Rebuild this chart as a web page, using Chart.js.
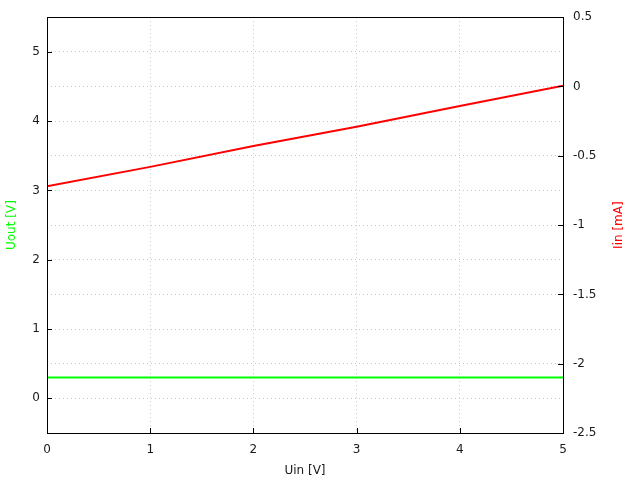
<!DOCTYPE html>
<html>
<head>
<meta charset="utf-8">
<script src="https://cdn.jsdelivr.net/npm/chart.js@4"></script>
<style>
  html, body { margin: 0; padding: 0; background: #fff; }
  canvas { display: block; }
</style>
</head>
<body>
<canvas id="chart" width="640" height="480"></canvas>
<script>
// Data
const uin = [0, 1, 2, 3, 4, 5];                          // Uin [V]
const uout = [0.3, 0.3, 0.3, 0.3, 0.3, 0.3];              // Uout [V]
const iin = [-0.72, -0.58, -0.43, -0.29, -0.14, 0.005];   // Iin [mA]

const xTicks = [0, 1, 2, 3, 4, 5];
const yTicks = [0, 1, 2, 3, 4, 5];
const y2Ticks = [-2.5, -2, -1.5, -1, -0.5, 0, 0.5];

Chart.defaults.font.family = "'DejaVu Sans', sans-serif";
Chart.defaults.font.size = 12;
Chart.defaults.color = "#1a1a1a";

const gridColor = "#c8c8c8";

// gnuplot-like frame, inward tick marks and axis titles
const framePlugin = {
    id: "frame",
    afterDatasetsDraw(chart) {
        const ctx = chart.ctx;
        const a = chart.chartArea;
        const s = chart.scales;
        ctx.save();
        ctx.strokeStyle = "#000";
        ctx.lineWidth = 1;
        ctx.beginPath();
        yTicks.forEach(v => {
            const y = Math.round(s.y.getPixelForValue(v)) + 0.5;
            ctx.moveTo(a.left, y); ctx.lineTo(a.left + 5, y);
        });
        y2Ticks.forEach(v => {
            const y = Math.round(s.y2.getPixelForValue(v)) + 0.5;
            ctx.moveTo(a.right, y); ctx.lineTo(a.right - 5, y);
        });
        xTicks.forEach(v => {
            const x = Math.round(s.x.getPixelForValue(v)) + 0.5;
            ctx.moveTo(x, a.bottom); ctx.lineTo(x, a.bottom - 5);
        });
        ctx.stroke();
        ctx.strokeRect(Math.round(a.left) + 0.5, Math.round(a.top) + 0.5,
                       Math.round(a.right - a.left), Math.round(a.bottom - a.top));

        // axis titles
        ctx.font = "12px 'DejaVu Sans', sans-serif";
        ctx.textAlign = "center";
        ctx.textBaseline = "middle";
        ctx.fillStyle = "#1a1a1a";
        ctx.fillText("Uin [V]", (a.left + a.right) / 2, 471);
        const midY = (a.top + a.bottom) / 2;
        ctx.save();
        ctx.translate(12, midY);
        ctx.rotate(-Math.PI / 2);
        ctx.fillStyle = "#00ff00";
        ctx.fillText("Uout [V]", 0, 0);
        ctx.restore();
        ctx.save();
        ctx.translate(619, midY);
        ctx.rotate(-Math.PI / 2);
        ctx.fillStyle = "#ff0000";
        ctx.fillText("Iin [mA]", 0, 0);
        ctx.restore();
        ctx.restore();
    }
};

const ctx = document.getElementById("chart").getContext("2d");

new Chart(ctx, {
    type: "line",
    data: {
        datasets: [
            {
                label: "Uout",
                data: uin.map((x, i) => ({ x: x, y: uout[i] })),
                yAxisID: "y",
                borderColor: "#00ff00",
                borderWidth: 2,
                pointRadius: 0,
                tension: 0
            },
            {
                label: "Iin",
                data: uin.map((x, i) => ({ x: x, y: iin[i] })),
                yAxisID: "y2",
                borderColor: "#ff0000",
                borderWidth: 2,
                pointRadius: 0,
                tension: 0
            }
        ]
    },
    options: {
        responsive: false,
        animation: false,
        layout: { padding: { top: 16, left: 0, right: 0, bottom: 0 } },
        plugins: {
            legend: { display: false },
            tooltip: { enabled: false }
        },
        scales: {
            x: {
                type: "linear",
                min: 0,
                max: 5,
                afterBuildTicks: s => { s.ticks = xTicks.map(v => ({ value: v })); },
                afterFit: s => { s.height = 47; },
                grid: { color: gridColor, drawTicks: false, tickLength: 0 },
                border: { display: false, dash: [1, 3] },
                ticks: { padding: 10, maxRotation: 0, callback: v => String(v) }
            },
            y: {
                type: "linear",
                position: "left",
                min: -0.5,
                max: 5.5,
                afterBuildTicks: s => { s.ticks = yTicks.map(v => ({ value: v })); },
                afterFit: s => { s.width = 47; },
                grid: { color: gridColor, drawTicks: false, tickLength: 0 },
                border: { display: false, dash: [1, 3] },
                ticks: { padding: 7, callback: v => String(v) }
            },
            y2: {
                type: "linear",
                position: "right",
                min: -2.5,
                max: 0.5,
                afterBuildTicks: s => { s.ticks = y2Ticks.map(v => ({ value: v })); },
                afterFit: s => { s.width = 77; },
                grid: { color: gridColor, drawTicks: false, tickLength: 0 },
                border: { display: false, dash: [1, 3] },
                ticks: { padding: 10, callback: v => String(v) }
            }
        }
    },
    plugins: [framePlugin]
});
</script>
</body>
</html>
